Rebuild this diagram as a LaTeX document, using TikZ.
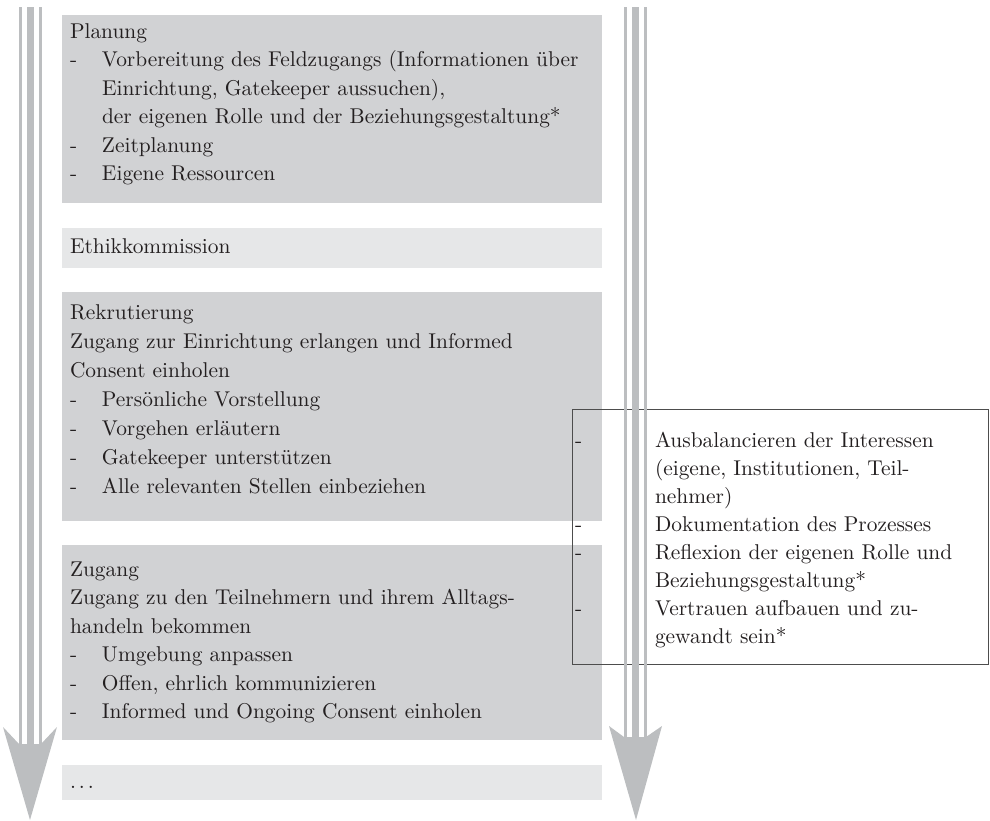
\documentclass[tikz,border=0pt]{standalone}
\usepackage{fontspec}
\setmainfont{lmroman10-regular}[Extension=.otf]
\definecolor{boxgray}{HTML}{D1D2D4}
\definecolor{lightbox}{HTML}{E6E7E8}
\definecolor{arrowgray}{HTML}{BCBEC0}
\definecolor{framegray}{HTML}{4D4D4D}
\definecolor{inkcol}{HTML}{231F20}
\tikzset{
  graybox/.style={fill=boxgray, draw=none, anchor=north west, inner sep=0pt, outer sep=0pt, minimum width=540pt},
  palebox/.style={graybox, fill=lightbox},
  txtline/.style={anchor=base west, inner sep=0pt, outer sep=0pt, text=inkcol, font=\fontsize{21.4}{28.5}\selectfont},
  framebox/.style={draw=framegray, line width=0.9pt, anchor=north west, inner sep=0pt, minimum width=416pt, minimum height=255pt},
  stripe/.style={fill=arrowgray, draw=none},
}
\newcommand{\lbul}[1]{\makebox[32pt][l]{-}#1}
\newcommand{\rbul}[1]{\makebox[80pt][l]{-}#1}
\begin{document}
\begin{tikzpicture}[x=1pt,y=-1pt]
\useasboundingbox (0,0) rectangle (990,820);
% gray boxes
\node[graybox, minimum height=188pt] (plan) at (62,15) {};
\node[palebox, minimum height=40pt] (ethik) at (62,228) {};
\node[graybox, minimum height=229pt] (rekr) at (62,292) {};
\node[graybox, minimum height=195pt] (zug) at (62,545) {};
\node[palebox, minimum height=35pt] (dots) at (62,765) {};
% Planung
\node[txtline] (p1) at (70,38) {Planung};
\node[txtline] (p2) at (70,66.5) {\lbul{Vorbereitung des Feldzugangs (Informationen über}};
\node[txtline] (p3) at (102,95) {Einrichtung, Gatekeeper aussuchen),};
\node[txtline] (p4) at (102,123.5) {der eigenen Rolle und der Beziehungsgestaltung*};
\node[txtline] (p5) at (70,152) {\lbul{Zeitplanung}};
\node[txtline] (p6) at (70,180.5) {\lbul{Eigene Ressourcen}};
% Ethik
\node[txtline] (e1) at (70,253) {Ethikkommission};
% Rekrutierung
\node[txtline] (k1) at (70,319) {Rekrutierung};
\node[txtline] (k2) at (70,348) {Zugang zur Einrichtung erlangen und Informed};
\node[txtline] (k3) at (70,377) {Consent einholen};
\node[txtline] (k4) at (70,406) {\lbul{Persönliche Vorstellung}};
\node[txtline] (k5) at (70,435) {\lbul{Vorgehen erläutern}};
\node[txtline] (k6) at (70,464) {\lbul{Gatekeeper unterstützen}};
\node[txtline] (k7) at (70,493) {\lbul{Alle relevanten Stellen einbeziehen}};
% Zugang
\node[txtline] (z1) at (70,576) {Zugang};
\node[txtline] (z2) at (70,604.5) {Zugang zu den Teilnehmern und ihrem Alltags-};
\node[txtline] (z3) at (70,633) {handeln bekommen};
\node[txtline] (z4) at (70,661.5) {\lbul{Umgebung anpassen}};
\node[txtline] (z5) at (70,690) {\lbul{Offen, ehrlich kommunizieren}};
\node[txtline] (z6) at (70,718.5) {\lbul{Informed und Ongoing Consent einholen}};
% dots
\node[txtline] (d1) at (70,788) {.\kern3pt.\kern3pt.};
% right frame box
\node[framebox] (side) at (572,409) {};
\node[txtline] (r1) at (575,447) {\rbul{Ausbalancieren der Interessen}};
\node[txtline] (r2) at (655,475) {(eigene, Institutionen, Teil-};
\node[txtline] (r3) at (655,503) {nehmer)};
\node[txtline] (r4) at (575,531) {\rbul{Dokumentation des Prozesses}};
\node[txtline] (r5) at (575,559) {\rbul{Reflexion der eigenen Rolle und}};
\node[txtline] (r6) at (655,587) {Beziehungsgestaltung*};
\node[txtline] (r7) at (575,615) {\rbul{Vertrauen aufbauen und zu-}};
\node[txtline] (r8) at (655,643) {gewandt sein*};
% left arrow
\path[stripe] (18.5,7) rectangle (21.5,745);
\path[stripe] (26.5,7) rectangle (33.5,745);
\path[stripe] (38.5,7) rectangle (41.5,745);
\fill[arrowgray] (3,727) -- (19,744) -- (41,744) -- (57,727) -- (30,820) -- cycle;
% right arrow
\path[stripe] (623.5,7) rectangle (626.5,738);
\path[stripe] (631.5,7) rectangle (638.5,738);
\path[stripe] (643.5,7) rectangle (646.5,738);
\fill[arrowgray] (609,726) -- (624,737) -- (646,737) -- (662,726) -- (636,820) -- cycle;
\end{tikzpicture}
\end{document}
